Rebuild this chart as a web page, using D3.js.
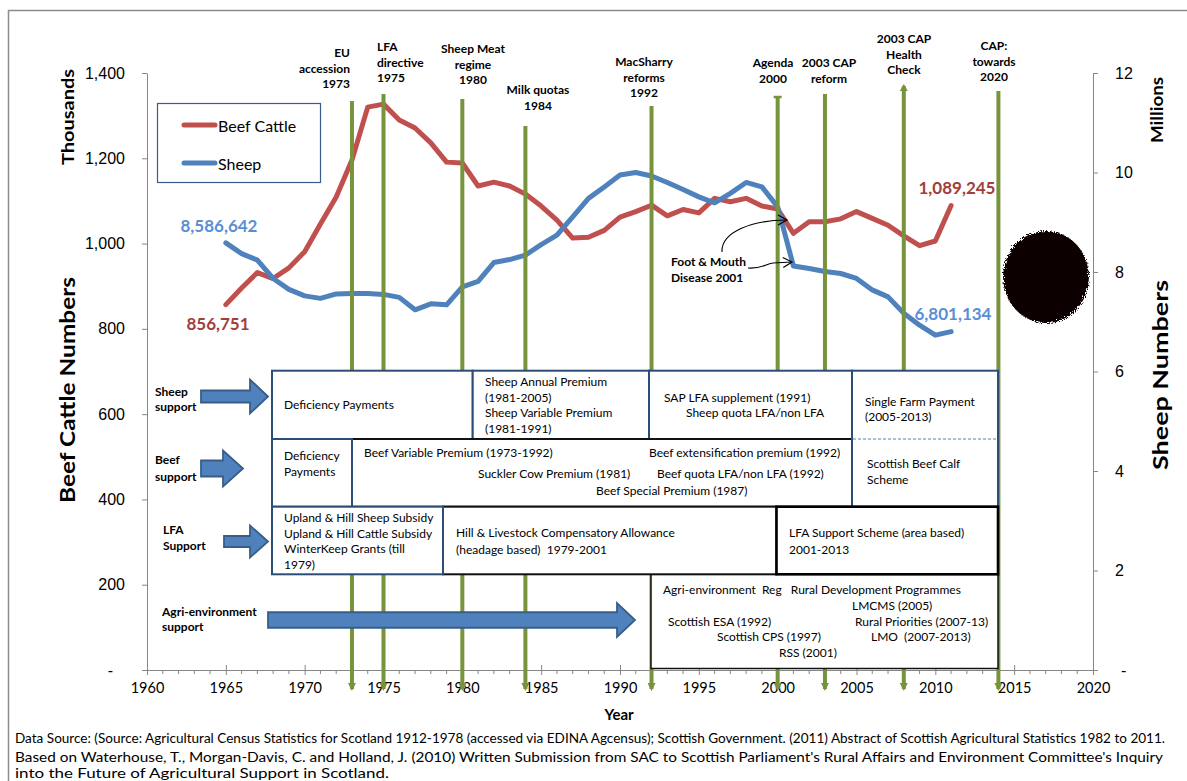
<!DOCTYPE html>
<html><head><meta charset="utf-8">
<script src="https://cdn.jsdelivr.net/npm/d3@7"></script>
<style>
body{margin:0;background:#fff;}
svg{display:block;font-family:Lato,"Open Sans",sans-serif;}
</style></head><body>
<svg id="c" width="1187" height="781"></svg>
<script>
// ---------------- DATA ----------------
const years = [1965,1966,1967,1968,1969,1970,1971,1972,1973,1974,1975,1976,1977,1978,1979,1980,1981,1982,1983,1984,1985,1986,1987,1988,1989,1990,1991,1992,1993,1994,1995,1996,1997,1998,1999,2000,2001,2002,2003,2004,2005,2006,2007,2008,2009,2010,2011];
// Beef cattle, thousands (left axis)
const beefCattle = [856.751,896,932,918,943,981,1046,1109,1196,1320,1327,1290,1271,1236,1191,1189,1135,1144,1135,1116,1088,1055,1013,1015,1031,1062,1075,1090,1065,1080,1072,1106,1098,1106,1088,1081,1024,1051,1051,1058,1075,1059,1043,1018,995,1006,1089.245];
// Sheep, millions (right axis)
const sheep = [8.586642,8.37,8.24,7.87,7.65,7.52,7.47,7.56,7.57,7.57,7.55,7.49,7.24,7.36,7.34,7.70,7.81,8.19,8.25,8.34,8.55,8.74,9.11,9.48,9.71,9.95,10.0,9.93,9.80,9.66,9.51,9.39,9.58,9.80,9.71,9.31,8.12,8.07,8.01,7.97,7.87,7.64,7.50,7.17,6.93,6.73,6.801134];
const seriesNames = ["Beef Cattle","Sheep"];
const xTicks = [1960,1965,1970,1975,1980,1985,1990,1995,2000,2005,2010,2015,2020];
const xMinorTicks = [1961,1962,1963,1964,1966,1967,1968,1969,1971,1972,1973,1974,1976,1977,1978,1979,1981,1982,1983,1984,1986,1987,1988,1989,1991,1992,1993,1994,1996,1997,1998,1999,2001,2002,2003,2004,2006,2007,2008,2009,2011,2012,2013,2014,2016,2017,2018,2019];
const leftTicks = [0,200,400,600,800,1000,1200,1400];
const rightTicks = [0,2,4,6,8,10,12];
const eventYears = [1973,1975,1980,1984,1992,2000,2003,2008,2014];
const eventLabels = [["EU","accession","1973"],["LFA","directive","1975"],["Sheep Meat","regime","1980"],["Milk quotas","1984"],["MacSharry","reforms","1992"],["Agenda","2000"],["2003 CAP","reform"],["2003 CAP","Health","Check"],["CAP:","towards","2020"]];
const endLabels = {beefStart:"856,751", beefEnd:"1,089,245", sheepStart:"8,586,642", sheepEnd:"6,801,134"};
const footnote = [
 "Data Source: (Source: Agricultural Census Statistics for Scotland 1912-1978 (accessed via EDINA Agcensus); Scottish Government. (2011)  Abstract of Scottish Agricultural Statistics 1982 to 2011.",
 "Based on Waterhouse, T., Morgan-Davis, C. and Holland, J. (2010)  Written Submission from SAC to Scottish Parliament's Rural Affairs and Environment Committee's Inquiry",
 "into the Future of Agricultural Support in Scotland."
];

// ---------------- LAYOUT ----------------
const svg = d3.select("#c");
const RED="#C0504D", BLUE="#4F81BD", GREEN="#77933C", RED_T="#A23E3B", BLUE_T="#5A8ED3", AX="#868686";
const x = d3.scaleLinear().domain([1960,2020]).range([147,1093]);
const yL = d3.scaleLinear().domain([0,1400]).range([670,73]);
const yR = d3.scaleLinear().domain([0,12]).range([670,73]);

const defs = svg.append("defs");
function marker(id, color, d, w, h, rx, ry){
  defs.append("marker").attr("id",id).attr("markerUnits","userSpaceOnUse")
   .attr("markerWidth",w).attr("markerHeight",h).attr("refX",rx).attr("refY",ry)
   .attr("orient","auto").append("path").attr("d",d).attr("fill",color);
}
marker("gArrow", GREEN, "M0,0 L8,4 L0,8 Z", 8, 8, 6, 4);
defs.append("marker").attr("id","kArrow").attr("markerUnits","userSpaceOnUse")
  .attr("markerWidth",12).attr("markerHeight",12).attr("refX",10).attr("refY",6).attr("orient","auto")
  .append("path").attr("d","M1,1 L10,6 L1,11").attr("fill","none").attr("stroke","#000").attr("stroke-width",1.2);
const flt = defs.append("filter").attr("id","fuzz").attr("x","-20%").attr("y","-20%").attr("width","140%").attr("height","140%");
flt.append("feTurbulence").attr("type","fractalNoise").attr("baseFrequency",0.9).attr("numOctaves",2).attr("result","n");
flt.append("feDisplacementMap").attr("in","SourceGraphic").attr("in2","n").attr("scale",7);

// frame
svg.append("rect").attr("x",8.5).attr("y",10.5).attr("width",1200).attr("height",800)
  .attr("fill","none").attr("stroke","#8c8c8c").attr("stroke-width",1.5);

// axes
const gx = svg.append("g").attr("transform","translate(0,670)");
gx.call(d3.axisBottom(x).tickValues(xTicks).tickFormat(d3.format("d")).tickSize(5).tickPadding(8).tickSizeOuter(0));
gx.selectAll(".tick line").attr("y1",-5);
gx.selectAll(".minor").data(xMinorTicks).enter().append("line").attr("class","minor")
  .attr("x1",d=>x(d)).attr("x2",d=>x(d)).attr("y1",0).attr("y2",4).attr("stroke",AX);
gx.selectAll("path,line").attr("stroke",AX);
gx.selectAll("text").attr("font-size",14.5).attr("fill","#000").attr("font-family","Lato");

const fmtL = d => d===0 ? "-" : d3.format(",")(d);
const gl = svg.append("g").attr("transform","translate(147,0)");
gl.call(d3.axisLeft(yL).tickValues(leftTicks).tickFormat(fmtL).tickSize(5).tickPadding(17).tickSizeOuter(0));
gl.selectAll("path,line").attr("stroke",AX);
gl.selectAll("text").attr("font-size",16).attr("fill","#000");
gl.selectAll(".tick").filter(d=>d===0).select("text").attr("dx",-12);

const gr = svg.append("g").attr("transform","translate(1093,0)");
gr.call(d3.axisRight(yR).tickValues(rightTicks).tickFormat(d=>d===0?"-":d).tickSize(5).tickPadding(17).tickSizeOuter(0));
gr.selectAll("path,line").attr("stroke",AX);
gr.selectAll("text").attr("font-size",16).attr("fill","#000");
gr.selectAll(".tick").filter(d=>d===0).select("text").attr("dx",6);

// axis titles
svg.append("text").attr("transform","translate(74,117) rotate(-90)").attr("text-anchor","middle")
  .attr("font-weight","bold").attr("font-size",17).attr("textLength",96).attr("lengthAdjust","spacingAndGlyphs").text("Thousands");
svg.append("text").attr("transform","translate(75,390) rotate(-90)").attr("text-anchor","middle")
  .attr("font-weight","bold").attr("font-size",21).attr("textLength",226).attr("lengthAdjust","spacingAndGlyphs").text("Beef Cattle Numbers");
svg.append("text").attr("transform","translate(1163,110) rotate(-90)").attr("text-anchor","middle")
  .attr("font-weight","bold").attr("font-size",17).attr("textLength",66).attr("lengthAdjust","spacingAndGlyphs").text("Millions");
svg.append("text").attr("transform","translate(1168,375) rotate(-90)").attr("text-anchor","middle")
  .attr("font-weight","bold").attr("font-size",21).attr("textLength",190).attr("lengthAdjust","spacingAndGlyphs").text("Sheep Numbers");
svg.append("text").attr("x",619).attr("y",720).attr("text-anchor","middle")
  .attr("font-weight","bold").attr("font-size",15).text("Year");

// series
const beefLine = d3.line().x((d,i)=>x(years[i])).y(d=>yL(d));
const sheepLine = d3.line().x((d,i)=>x(years[i])).y(d=>yR(d));
svg.append("path").datum(beefCattle).attr("d",beefLine).attr("fill","none").attr("stroke",RED)
  .attr("stroke-width",5).attr("stroke-linejoin","round").attr("stroke-linecap","round");
svg.append("path").datum(sheep).attr("d",sheepLine).attr("fill","none").attr("stroke",BLUE)
  .attr("stroke-width",5).attr("stroke-linejoin","round").attr("stroke-linecap","round");

// end labels
const lbl = (tx,ty,t,c)=>svg.append("text").attr("x",tx).attr("y",ty).attr("text-anchor","middle")
  .attr("dominant-baseline","central").attr("font-weight","bold").attr("font-size",17).attr("fill",c).text(t);
lbl(219,225,endLabels.sheepStart,BLUE_T);
lbl(218,323,endLabels.beefStart,RED_T);
lbl(957,187,endLabels.beefEnd,RED_T);
lbl(953,313,endLabels.sheepEnd,BLUE_T);

// event lines
const eventTops = [101,94,99,126,106,97,94,86,91];
const eventBottom = 689;
svg.selectAll(".ev").data(eventYears).enter().append("line").attr("class","ev")
  .attr("x1",d=>x(d)).attr("x2",d=>x(d)).attr("y1",(d,i)=>eventTops[i]).attr("y2",eventBottom)
  .attr("stroke",GREEN).attr("stroke-width",4).attr("marker-end","url(#gArrow)");
svg.append("line").attr("x1",x(2000)-4).attr("x2",x(2000)+4).attr("y1",eventTops[5]).attr("y2",eventTops[5])
  .attr("stroke",GREEN).attr("stroke-width",2.5);
svg.append("path").attr("d",`M${x(2008)-4},${eventTops[7]+5} L${x(2008)},${eventTops[7]-2} L${x(2008)+4},${eventTops[7]+5} Z`).attr("fill",GREEN);

// event labels
const evLayout = [{x:350,a:"end",y:53},{x:377,a:"start",y:47},{x:473,a:"middle",y:49},{x:538,a:"middle",y:90},
  {x:644,a:"middle",y:62},{x:773,a:"middle",y:63},{x:829,a:"middle",y:63},{x:904,a:"middle",y:39},{x:994,a:"middle",y:46}];
eventLabels.forEach((lines,i)=>{
  const t = svg.append("text").attr("text-anchor",evLayout[i].a).attr("font-weight","bold").attr("font-size",12);
  lines.forEach((s,j)=>t.append("tspan").attr("x",evLayout[i].x).attr("y",evLayout[i].y+4+j*15.6).text(s));
});

// Foot & mouth annotation
const fm = svg.append("text").attr("font-weight","bold").attr("font-size",12);
fm.append("tspan").attr("x",671).attr("y",266).text("Foot & Mouth");
fm.append("tspan").attr("x",671).attr("y",282).text("Disease 2001");
svg.append("path").attr("d","M722,252 C721,232 752,220 787,220").attr("fill","none").attr("stroke","#000").attr("stroke-width",1.1).attr("marker-end","url(#kArrow)");
svg.append("path").attr("d","M748,268 C762,269 765,264 773,263 L792,262").attr("fill","none").attr("stroke","#000").attr("stroke-width",1.1).attr("marker-end","url(#kArrow)");

// legend
const lg = svg.append("g");
lg.append("rect").attr("x",157.5).attr("y",103.5).attr("width",163).attr("height",79).attr("fill","#fff").attr("stroke","#385D8A").attr("stroke-width",1.2);
[[RED,125],[BLUE,163]].forEach(([c,yy],i)=>{
  lg.append("line").attr("x1",184).attr("x2",215).attr("y1",yy).attr("y2",yy).attr("stroke",c).attr("stroke-width",5).attr("stroke-linecap","round");
  lg.append("text").attr("x",218).attr("y",yy).attr("dominant-baseline","central").attr("font-size",16).text(seriesNames[i]);
});

// policy boxes
const DB="#2C4D75";
function box(x0,y0,x1,y1,stroke,w){
  svg.append("rect").attr("x",x0).attr("y",y0).attr("width",x1-x0).attr("height",y1-y0)
   .attr("fill","#fff").attr("stroke",stroke).attr("stroke-width",w);
}
function txt(tx,ty,lines,opts={}){
  const t = svg.append("text").attr("font-size",opts.fs||12).attr("font-weight",opts.bold?"bold":"normal").attr("fill","#000");
  lines.forEach((s,j)=>t.append("tspan").attr("x",tx).attr("y",ty+4+j*(opts.lh||15.7)).attr("xml:space","preserve").text(s));
}
const R1=370.7, R2=439, R3=506.7, R4=574.3, R5=668.5;
box(272,R1,472.7,R2,DB,2); box(472.7,R1,649,R2,DB,2); box(649,R1,852,R2,DB,2);
box(352,R2,852,R3,"#111",2);
box(852,R1,998,R3,DB,2);
svg.append("line").attr("x1",853).attr("x2",997).attr("y1",R2).attr("y2",R2).attr("stroke",BLUE).attr("stroke-width",1).attr("stroke-dasharray","3,2");
box(272,R2,352,R3,DB,2);
box(651,R4,998,R5,"#111",1.5);
box(443,R3,776.5,R4,"#111",2);
box(776.5,R3,998,R4,"#000",2.6);
box(272,R3,443,R4,DB,2);

txt(284,405,["Deficiency Payments"]);
txt(485,381.7,["Sheep Annual Premium","(1981-2005)","Sheep Variable Premium","(1981-1991)"],{lh:15.8});
txt(664,398,["SAP LFA supplement (1991)"]);
txt(686,413.3,["Sheep quota LFA/non LFA"]);
txt(865,401.7,["Single Farm Payment","(2005-2013)"],{lh:15.3});
txt(284,456,["Deficiency","Payments"]);
txt(364,453.3,["Beef Variable Premium (1973-1992)"]);
txt(478,474,["Suckler Cow Premium (1981)"]);
txt(596,490.7,["Beef Special Premium (1987)"]);
txt(649,453.3,["Beef extensification premium (1992)"]);
txt(657,474,["Beef quota LFA/non LFA (1992)"]);
txt(867,464,["Scottish Beef Calf","Scheme"],{lh:15.5});
txt(284,517.7,["Upland & Hill Sheep Subsidy","Upland & Hill Cattle Subsidy","WinterKeep Grants (till","1979)"],{lh:15.8});
txt(456,533.3,["Hill & Livestock Compensatory Allowance","(headage based)  1979-2001"],{lh:16.5});
txt(789,533.3,["LFA Support Scheme (area based)","2001-2013"],{lh:16.5});
txt(663,590,["Agri-environment  Reg   Rural Development Programmes"]);
txt(852,606,["LMCMS (2005)"]);
txt(668,621.7,["Scottish ESA (1992)"]);
txt(855,621.7,["Rural Priorities (2007-13)"]);
txt(717,637.3,["Scottish CPS (1997)"]);
txt(871,637.3,["LMO  (2007-2013)"]);
txt(779,653.3,["RSS (2001)"]);

// row labels
txt(155,392.3,["Sheep","support"],{bold:true,lh:14.5});
txt(155,460,["Beef","support"],{bold:true,lh:16.5});
txt(163,530,["LFA","Support"],{bold:true,lh:15.7});
txt(162,611.7,["Agri-environment","support"],{bold:true,lh:15});

// block arrows
function blockArrow(x0,hx,x1,cy,sh,hh){
  const p=[[x0,cy-sh/2],[hx,cy-sh/2],[hx,cy-hh/2],[x1,cy],[hx,cy+hh/2],[hx,cy+sh/2],[x0,cy+sh/2]];
  svg.append("polygon").attr("points",p.map(q=>q.join(",")).join(" "))
    .attr("fill",BLUE).attr("stroke","#385D8A").attr("stroke-width",1.8).attr("stroke-linejoin","miter");
}
blockArrow(201,250,268,396.5,12,34);
blockArrow(201,223,243,468.5,16,36);
blockArrow(224,250,268,541.5,11,32);
blockArrow(268,617,635,620,15.5,34);

// blob
svg.append("ellipse").attr("cx",1046).attr("cy",277).attr("rx",43).attr("ry",46).attr("fill","#0a0505").attr("filter","url(#fuzz)");

// footnote
const fnY=[743,762,778], fnW=[1150,1148,374];
footnote.forEach((s,i)=>svg.append("text").attr("x",15).attr("y",fnY[i]).attr("font-size",12.5)
  .attr("textLength",fnW[i]).attr("lengthAdjust","spacingAndGlyphs").text(s));
</script>
</body></html>
